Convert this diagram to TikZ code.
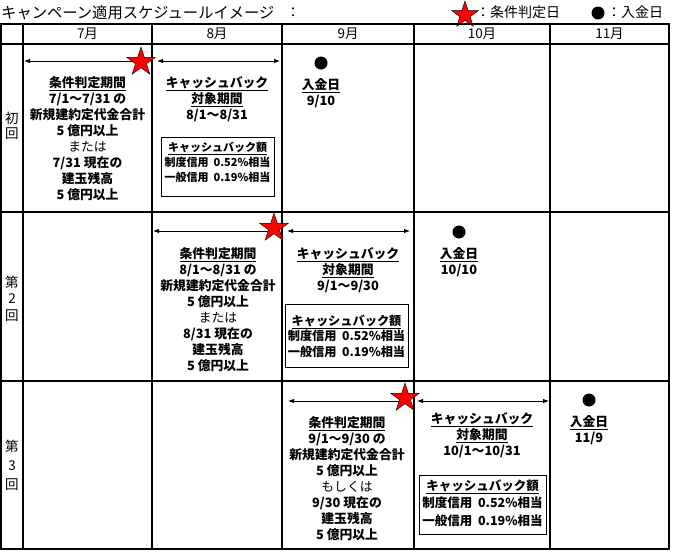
\documentclass[tikz,border=0pt]{standalone}
\usepackage{fontspec}
\setmainfont{Noto Sans CJK JP}
\usetikzlibrary{shapes.geometric,arrows.meta}
\begin{document}
\begin{tikzpicture}[x=1pt,y=-1pt,
  grid/.style={line width=1.2pt},
  body/.style={font=\fontsize{12.8}{16}\selectfont\bfseries, align=center, inner sep=0pt},
  midbody/.style={font=\fontsize{12.2}{15.5}\selectfont\bfseries, align=center, inner sep=0pt},
  plain/.style={font=\fontsize{13.5}{16}\selectfont, inner sep=0pt},
  legendtxt/.style={font=\fontsize{14}{16}\selectfont, inner sep=0pt, anchor=west},
  starmark/.style={star, star points=5, star point ratio=2.6, fill=red, draw=black, line width=0.4pt, minimum size=30pt, inner sep=0pt},
  dot/.style={circle, fill=black, minimum size=13pt, inner sep=0pt},
  period/.style={line width=0.9pt, {Latex[length=6pt,width=4.5pt]}-{Latex[length=6pt,width=4.5pt]}},
  amtbox/.style={draw, line width=0.9pt, inner sep=0pt}]
\useasboundingbox (0,0) rectangle (680,555);

% title and legend
\node[legendtxt, font=\fontsize{15.3}{16}\selectfont] (title) at (1,12.5) {キャンペーン適用スケジュールイメージ};
\node[legendtxt] (colon) at (286,12.5) {：};
\node[starmark, minimum size=28pt] (lstar) at (465,15) {};
\node[legendtxt] (lstartxt) at (476,12.5) {：条件判定日};
\node[dot] (ldot) at (598,13) {};
\node[legendtxt] (ldottxt) at (607,12.5) {：入金日};

% grid
\draw[grid] (1,24) rectangle (669,549);
\foreach \x in {23,152,282,414,550} \draw[grid] (\x,24) -- (\x,549);
\foreach \y in {44,212,381} \draw[grid] (1,\y) -- (669,\y);

% month headers
\node[plain] (m7) at (87.5,34) {7月};
\node[plain] (m8) at (217,34) {8月};
\node[plain] (m9) at (348,34) {9月};
\node[plain] (m10) at (482,34) {10月};
\node[plain] (m11) at (609.5,34) {11月};

% row labels
\node[plain, align=center, font=\fontsize{13.5}{15}\selectfont] (r1) at (12,126) {初\\回};
\node[plain, align=center, font=\fontsize{13.5}{16.5}\selectfont] (r2) at (12,298.5) {第\\2\\回};
\node[plain, align=center, font=\fontsize{13.5}{19}\selectfont] (r3) at (12,465.5) {第\\3\\回};

% ---------- row 1 ----------
\coordinate (a1l) at (24,61);
\coordinate (a1r) at (141,61);
\coordinate (b1l) at (157,61);
\coordinate (b1r) at (280,61);
\draw[period] (a1l) -- (a1r);
\draw[period] (b1l) -- (b1r);
\node[starmark] (s1) at (141,62) {};

\node[body] (c1) at (87.5,139) {\underline{条件判定期間}\\7/1～7/31 の\\新規建約定代金合計\\5 億円以上\\{\mdseries または}\\7/31 現在の\\建玉残高\\5 億円以上};
\node[body] (cb1) at (217,99) {\underline{キャッシュバック}\\\underline{対象期間}\\8/1～8/31};
\node[amtbox, minimum width=113pt, minimum height=59pt] (box1) at (217.5,166.5) {};
\node[body, font=\fontsize{11}{15}\selectfont\bfseries] (amt1) at (217.5,162.5) {\underline{キャッシュバック額}\\制度信用\ \ 0.52\%相当\\一般信用\ \ 0.19\%相当};
\node[dot] (d1) at (321,63) {};
\node[body] (p1) at (321,93.5) {\underline{入金日}\\9/10};

% ---------- row 2 ----------
\coordinate (a2l) at (153,231);
\coordinate (a2r) at (274,231);
\coordinate (b2l) at (287,231);
\coordinate (b2r) at (410,231);
\draw[period] (a2l) -- (a2r);
\draw[period] (b2l) -- (b2r);
\node[starmark] (s2) at (274,228) {};

\node[body] (c2) at (218,310) {\underline{条件判定期間}\\8/1～8/31 の\\新規建約定代金合計\\5 億円以上\\{\mdseries または}\\8/31 現在の\\建玉残高\\5 億円以上};
\node[body] (cb2) at (348,270.5) {\underline{キャッシュバック}\\\underline{対象期間}\\9/1～9/30};
\node[amtbox, minimum width=123pt, minimum height=63pt] (box2) at (346.5,335.5) {};
\node[midbody] (amt2) at (346.5,336) {\underline{キャッシュバック額}\\制度信用\ \ 0.52\%相当\\一般信用\ \ 0.19\%相当};
\node[dot] (d2) at (459,232) {};
\node[body] (p2) at (459,262.5) {\underline{入金日}\\10/10};

% ---------- row 3 ----------
\coordinate (a3l) at (288,401);
\coordinate (a3r) at (405,401);
\coordinate (b3l) at (417,401);
\coordinate (b3r) at (549,401);
\draw[period] (a3l) -- (a3r);
\draw[period] (b3l) -- (b3r);
\node[starmark] (s3) at (405,398) {};

\node[body] (c3) at (347,479) {\underline{条件判定期間}\\9/1～9/30 の\\新規建約定代金合計\\5 億円以上\\{\mdseries もしくは}\\9/30 現在の\\建玉残高\\5 億円以上};
\node[body] (cb3) at (482,435.5) {\underline{キャッシュバック}\\\underline{対象期間}\\10/1～10/31};
\node[amtbox, minimum width=127pt, minimum height=59pt] (box3) at (482.5,504.5) {};
\node[midbody, font=\fontsize{12.5}{17.5}\selectfont\bfseries] (amt3) at (482.5,503) {\underline{キャッシュバック額}\\制度信用\ \ 0.52\%相当\\一般信用\ \ 0.19\%相当};
\node[dot] (d3) at (589,400) {};
\node[body] (p3) at (589,430) {\underline{入金日}\\11/9};
\end{tikzpicture}
\end{document}
